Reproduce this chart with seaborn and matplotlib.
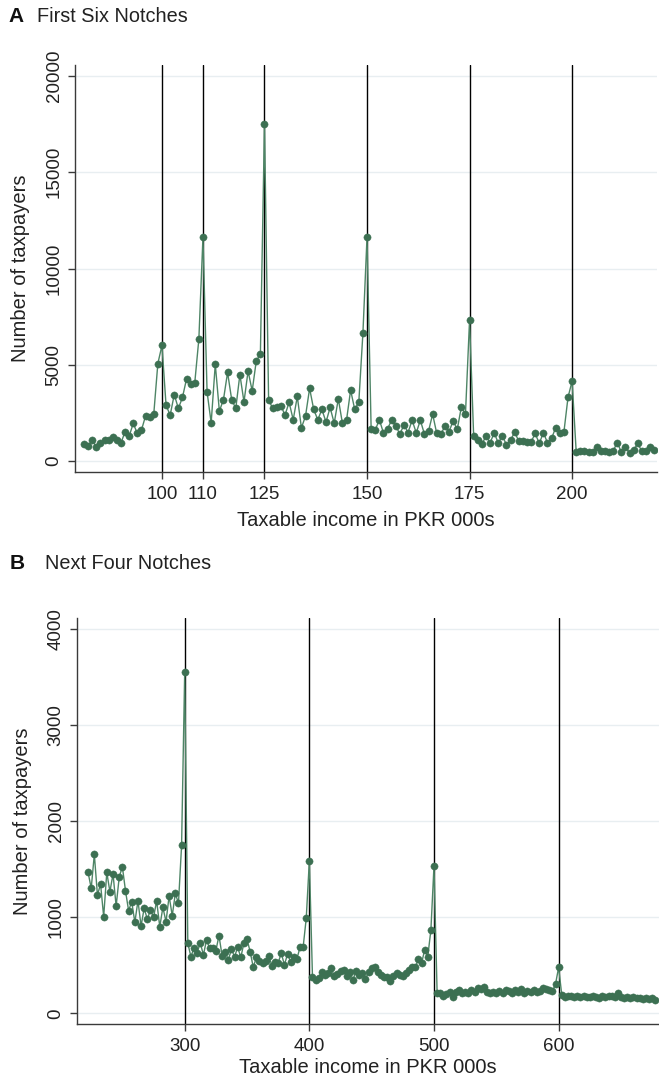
import numpy as np
import pandas as pd
import matplotlib
matplotlib.use("Agg")
import matplotlib.pyplot as plt
import seaborn as sns

sns.set_theme(style="white")
plt.rcParams["font.family"] = ["Liberation Sans", "DejaVu Sans"]

# ---------------- Panel A data ----------------
income_a = list(range(81, 221))
taxpayers_a = [
    880, 780, 1090, 740, 950, 1125, 1090, 1260, 1090, 950,
    1520, 1300, 1960, 1440, 1610, 2350, 2270, 2440, 5070, 6010,
    2910, 2390, 3460, 2740, 3310, 4280, 4000, 4070, 6350, 11640,
    3600, 1990, 5040, 2600, 3200, 4610, 3200, 2740, 4500, 3080,
    4680, 3650, 5210, 5560, 17500, 3200, 2740, 2820, 2890, 2390,
    3060, 2150, 3360, 1730, 2340, 3780, 2690, 2150, 2690, 2030,
    2790, 1970, 3240, 1970, 2130, 3690, 2690, 3080, 6660, 11640,
    1680, 1610, 2160, 1470, 1680, 2130, 1850, 1400, 1890, 1490,
    2130, 1470, 2130, 1400, 1570, 2440, 1440, 1400, 1820, 1540,
    2090, 1650, 2820, 2440, 7330, 1300, 1120, 880, 1300, 950,
    1470, 950, 1300, 860, 1090, 1510, 1040, 1040, 1000, 1000,
    1440, 920, 1490, 950, 1180, 1750, 1470, 1510, 3310, 4160,
    480, 520, 520, 480, 480, 740, 520, 520, 480, 520,
    970, 480, 740, 430, 570, 920, 520, 520, 740, 570,
]
notches_a = [100, 110, 125, 150, 175, 200]
yticks_a = [0, 5000, 10000, 15000, 20000]

# ---------------- Panel B data ----------------
income_b = list(np.arange(222.5, 678.0, 2.5))
taxpayers_b = [
    # 222.5 - 297.5
    1466, 1300, 1653, 1230, 1345, 1005, 1466, 1265, 1449, 1116,
    1420, 1524, 1275, 1068, 1161, 947, 1171, 909, 1095, 978,
    1075, 999, 1168, 901, 1103, 953, 1220, 1016, 1248, 1144, 1746,
    # 300
    3546,
    # 302.5 - 397.5
    729, 590, 683, 631, 735, 607, 763, 677, 677, 652, 808,
    600, 642, 556, 667, 590, 687, 583, 729, 770, 642,
    480, 583, 545, 528, 545, 597, 496, 538, 528, 625,
    504, 618, 538, 583, 566, 687, 687, 988,
    # 400
    1587,
    # 402.5 - 497.5
    382, 348, 365, 434, 400, 420, 469, 389, 410, 440,
    452, 389, 434, 348, 445, 400, 420, 355, 434, 469,
    486, 430, 400, 382, 376, 341, 389, 424, 400, 389,
    424, 452, 486, 480, 563, 521, 659, 590, 867,
    # 500
    1535,
    # 502.5 - 597.5
    210, 210, 182, 200, 226, 168, 226, 240, 210, 226,
    210, 240, 226, 262, 250, 272, 226, 210, 220, 210,
    230, 215, 240, 230, 210, 240, 225, 250, 215, 230,
    220, 240, 225, 230, 260, 250, 240, 230, 306,
    # 600
    480,
    # 602.5 - 677.5
    190, 175, 185, 180, 170, 185, 175, 180, 170, 175,
    180, 175, 165, 180, 175, 185, 180, 175, 210, 170,
    165, 170, 160, 175, 165, 160, 155, 165, 150, 160, 140,
]
notches_b = [300, 400, 500, 600]
yticks_b = [0, 1000, 2000, 3000, 4000]

df_a = pd.DataFrame({"income": income_a, "taxpayers": taxpayers_a})
df_b = pd.DataFrame({"income": income_b, "taxpayers": taxpayers_b})

LINE_COLOR = "#4e8566"
MARKER_COLOR = "#3c7052"
SPINE_COLOR = "#3a3a3a"
GRID_COLOR = "#e8eef1"
TEXT_COLOR = "#222222"

W, H = 659, 1078
fig = plt.figure(figsize=(W / 100, H / 100), dpi=100)
fig.patch.set_facecolor("white")


def frac_box(left, top, right, bottom):
    return [left / W, 1 - bottom / H, (right - left) / W, (bottom - top) / H]


ax_a = fig.add_axes(frac_box(75, 65, 657, 472))
ax_b = fig.add_axes(frac_box(77, 618, 659, 1024))


def style(ax, df, notches, yticks, xlim, ylim, xlabelpad):
    ax.set_facecolor("white")
    for n in notches:
        ax.axvline(n, color="black", lw=1.0, zorder=1)
    sns.lineplot(
        data=df, x="income", y="taxpayers", ax=ax,
        color=LINE_COLOR, linewidth=1.0, marker="o", markersize=5.2,
        markerfacecolor=MARKER_COLOR, markeredgecolor=MARKER_COLOR,
        markeredgewidth=0.3, zorder=3,
    )
    ax.set_xlim(*xlim)
    ax.set_ylim(*ylim)
    ax.set_xticks(notches)
    ax.set_xticklabels([str(n) for n in notches])
    ax.set_yticks(yticks)
    ax.set_yticklabels([str(v) for v in yticks], rotation=90, va="center")
    ax.yaxis.grid(True, color=GRID_COLOR, linewidth=1.0, zorder=0)
    ax.xaxis.grid(False)
    for s in ["top", "right"]:
        ax.spines[s].set_visible(False)
    for s in ["left", "bottom"]:
        ax.spines[s].set_color(SPINE_COLOR)
        ax.spines[s].set_linewidth(1.0)
    ax.tick_params(axis="both", which="major", direction="out", length=5,
                   width=1.0, color=SPINE_COLOR, labelsize=13.5, pad=5,
                   labelcolor=TEXT_COLOR, left=True, bottom=True)
    ax.tick_params(axis="y", pad=4)
    ax.set_xlabel("Taxable income in PKR 000s", fontsize=14.5, color=TEXT_COLOR, labelpad=xlabelpad)
    ax.set_ylabel("Number of taxpayers", fontsize=14.5, color=TEXT_COLOR, labelpad=11)


style(ax_a, df_a, notches_a, yticks_a, (78.8, 220.7), (-560, 20570), 6)
style(ax_b, df_b, notches_b, yticks_b, (213.6, 680.5), (-110, 4110), 2)

fig.text(8 / W, 1 - 17 / H, "A", fontsize=15, fontweight="bold", va="center", ha="left", color="#111111")
fig.text(37 / W, 1 - 17 / H, "First Six Notches", fontsize=14.3, va="center", ha="left", color=TEXT_COLOR)
fig.text(10 / W, 1 - 563 / H, "B", fontsize=15, fontweight="bold", va="center", ha="left", color="#111111")
fig.text(45 / W, 1 - 563 / H, "Next Four Notches", fontsize=14.3, va="center", ha="left", color=TEXT_COLOR)

fig.savefig("out.png", dpi=100, facecolor="white")
